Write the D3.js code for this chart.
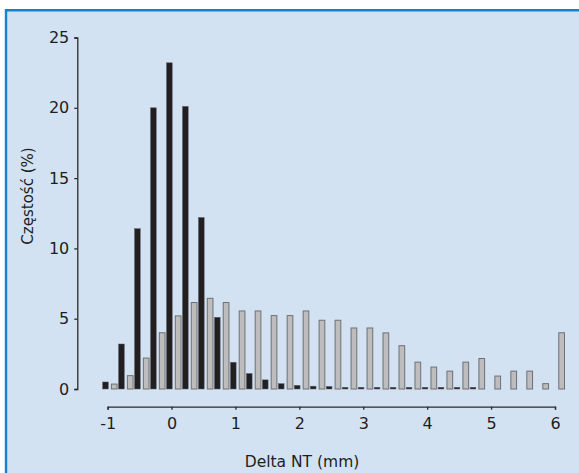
<!DOCTYPE html>
<html><head><meta charset="utf-8">
<script src="https://cdn.jsdelivr.net/npm/d3@7/dist/d3.min.js"></script>
<style>html,body{margin:0;padding:0;background:#fff;} svg{display:block}</style>
</head><body>
<svg id="c" width="579" height="473"></svg>
<script>
const bins = [-1, -0.75, -0.5, -0.25, 0, 0.25, 0.5, 0.75, 1, 1.25, 1.5, 1.75, 2, 2.25, 2.5, 2.75, 3, 3.25, 3.5, 3.75, 4, 4.25, 4.5, 4.75, 5, 5.25, 5.5, 5.75, 6];
const blackValues = [0.5, 3.2, 11.4, 20.0, 23.2, 20.1, 12.2, 5.1, 1.9, 1.1, 0.65, 0.38, 0.26, 0.2, 0.18, 0.12, 0.12, 0.12, 0.12, 0.12, 0.12, 0.12, 0.12, 0.12, 0, 0, 0, 0, 0];
const greyValues = [0.35, 0.95, 2.2, 4.0, 5.2, 6.15, 6.45, 6.15, 5.55, 5.55, 5.22, 5.22, 5.55, 4.89, 4.89, 4.34, 4.34, 3.99, 3.08, 1.91, 1.56, 1.27, 1.91, 2.17, 0.92, 1.27, 1.27, 0.38, 4.0];
const seriesNames = ["black", "grey"];
const xTicks = [-1, 0, 1, 2, 3, 4, 5, 6];
const yTicks = [0, 5, 10, 15, 20, 25];
const xTitle = "Delta NT (mm)";
const yTitle = "Częstość (%)";

const FONT = "'DejaVu Sans', sans-serif";
const svg = d3.select("#c");

// panel background and frame
svg.append("rect").attr("x", 5).attr("y", 9).attr("width", 574).attr("height", 464).attr("fill", "#d3e2f2");
svg.append("line").attr("x1", 5).attr("x2", 579).attr("y1", 10.3).attr("y2", 10.3).attr("stroke", "#1b80c6").attr("stroke-width", 2.4);
svg.append("line").attr("x1", 6).attr("x2", 6).attr("y1", 9).attr("y2", 473).attr("stroke", "#1b80c6").attr("stroke-width", 2.4);

const x = d3.scaleLinear().domain([-1, 6]).range([107.6, 555]);
const y = d3.scaleLinear().domain([0, 25]).range([389, 37.5]);
const sub = d3.scaleBand().domain(seriesNames).range([-5, 9.5]).paddingInner(0.35);

const data = bins.map((b, i) => ({ b, black: blackValues[i], grey: greyValues[i] }));

// bars
const g = svg.append("g");
g.selectAll("rect.grey").data(data.filter(d => d.grey > 0)).join("rect")
  .attr("class", "grey")
  .attr("x", d => x(d.b) + sub("grey"))
  .attr("width", sub.bandwidth())
  .attr("y", d => y(d.grey))
  .attr("height", d => y(0) - y(d.grey))
  .attr("fill", "#bdbdbd")
  .attr("stroke", "#6e7074")
  .attr("stroke-width", 1);
g.selectAll("rect.black").data(data.filter(d => d.black > 0)).join("rect")
  .attr("class", "black")
  .attr("x", d => x(d.b) + sub("black"))
  .attr("width", sub.bandwidth())
  .attr("y", d => y(d.black))
  .attr("height", d => y(0) - y(d.black))
  .attr("fill", "#231f20")
  .attr("stroke", "#5a5e66")
  .attr("stroke-width", 0.5);

// axes
const yAxis = svg.append("g").attr("transform", "translate(77.3,0)")
  .call(d3.axisLeft(y).tickValues(yTicks).tickSize(3).tickSizeOuter(3).tickPadding(5).tickFormat(d => String(d)));
const xAxis = svg.append("g").attr("transform", "translate(0,406.7)")
  .call(d3.axisBottom(x).tickValues(xTicks).tickSize(3).tickSizeOuter(3).tickPadding(8).tickFormat(d => String(d)));
[yAxis, xAxis].forEach(a => {
  a.selectAll("path.domain, .tick line").attr("stroke", "#2a2a2a").attr("stroke-width", 1.3);
  a.selectAll("text").attr("font-family", FONT).attr("font-size", 16).attr("fill", "#1e1e1e");
});

// titles
svg.append("text").attr("x", 302).attr("y", 467).attr("text-anchor", "middle")
  .attr("font-family", FONT).attr("font-size", 15.5).attr("fill", "#1e1e1e").text(xTitle);
svg.append("text").attr("transform", "translate(33,196) rotate(-90)").attr("text-anchor", "middle")
  .attr("font-family", FONT).attr("font-size", 15).attr("fill", "#1e1e1e").text(yTitle);
</script>
</body></html>
